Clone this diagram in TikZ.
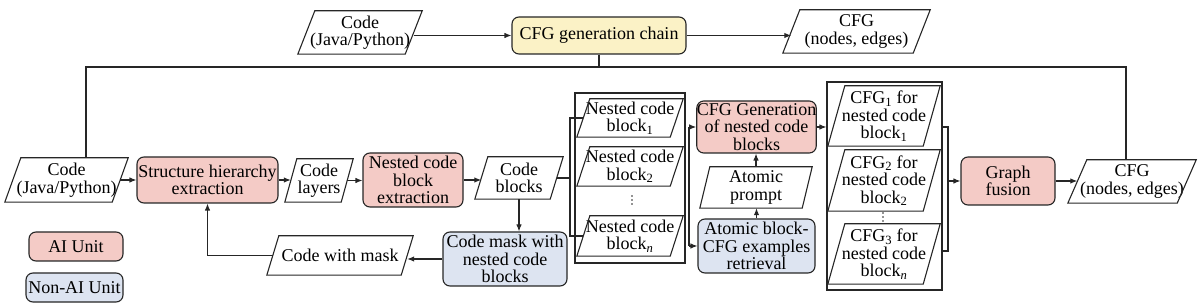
\documentclass[tikz,border=0pt]{standalone}
\usepackage{fontspec}
\setmainfont{Liberation Serif}
\usetikzlibrary{arrows.meta,calc}
\definecolor{aipink}{HTML}{F4CBC6}
\definecolor{nonblue}{HTML}{DDE4F1}
\definecolor{chainyel}{HTML}{FBF2C6}
\tikzset{
 txt/.style={inner sep=0pt, align=center, font=\fontsize{18}{17.5}\selectfont},
 ln/.style={line width=1.1pt, draw=black!85},
 arr/.style={ln, -{Latex[length=7pt,width=5.5pt]}},
 rbox/.style={txt, ln, draw, rounded corners=7pt},
 contbox/.style={ln, draw, inner sep=0pt},
 dotmark/.style={fill=black!85},
}
% parallelogram: name, L, R, T, B, slant, text
\newcommand\mypg[7]{%
  \node[txt, minimum width={#3-#2-#6}, minimum height={#5-#4}] (#1) at ({(#2+#3)/2},{(#4+#5)/2}) {#7};
  \draw[ln, line join=miter] ($(#1.south west)+(-#6/2,0)$) -- ($(#1.north west)+(#6/2,0)$) -- ($(#1.north east)+(#6/2,0)$) -- ($(#1.south east)+(-#6/2,0)$) -- cycle;
}
% rounded box: name, L, R, T, B, fill, text
\newcommand\myrb[7]{%
  \node[rbox, fill=#6, minimum width={#3-#2}, minimum height={#5-#4}] (#1) at ({(#2+#3)/2},{(#4+#5)/2}) {#7};
}
% vertical ellipsis drawn as three dots: x, y
\newcommand\myvdots[2]{%
  \foreach \dy in {-4,0,4} {\fill[dotmark] (#1,#2+\dy) circle (0.9);}
}
\begin{document}
\begin{tikzpicture}[x=1pt,y=-1pt]
\useasboundingbox (0,0) rectangle (1200,307);

% containers
\node[contbox, minimum width=110, minimum height=170] (cont1) at (630,178) {};
\node[contbox, minimum width=115, minimum height=208] (cont2) at (884.5,186) {};

% top row
\mypg{codeT}{298}{422}{11}{54}{17}{Code\\(Java/Python)}
\myrb{chain}{512}{686}{17}{54}{chainyel}{CFG generation chain}
\mypg{cfgT}{783}{930}{10}{53}{17}{CFG\\(nodes, edges)}

% main row
\mypg{codeL}{5}{128}{158}{202}{16}{Code\\(Java/Python)}
\myrb{struct}{137}{278}{157}{203}{aipink}{Structure hierarchy\\extraction}
\mypg{layers}{285}{353}{159}{202}{12}{Code\\layers}
\myrb{nest}{363}{463}{153}{207}{aipink}{Nested code\\block\\extraction}
\mypg{blocks}{475}{563}{157}{199}{13}{Code\\blocks}
\myrb{mask}{443}{567}{232}{286}{nonblue}{Code mask with\\nested code\\blocks}
\mypg{withmask}{267}{413}{236}{275}{12}{Code with mask}

\mypg{nb1}{577}{683}{99}{137}{13}{Nested code\\block\textsubscript{1}}
\mypg{nb2}{577}{683}{147}{186}{13}{Nested code\\block\textsubscript{2}}
\myvdots{632}{200}
\mypg{nbn}{577}{683}{216}{256}{13}{Nested code\\block\textsubscript{\textit{n}}}

\myrb{gen}{698}{815}{101}{153}{aipink}{CFG Generation\\of nested code\\blocks}
\mypg{prompt}{700}{812}{167}{208}{10}{Atomic\\prompt}
\myrb{retr}{698}{815}{219}{273}{nonblue}{Atomic block-\\CFG examples\\retrieval}

\mypg{c1}{828}{940}{86}{146}{17}{CFG\textsubscript{1} for\\nested code\\block\textsubscript{1}}
\mypg{c2}{828}{940}{150}{211}{17}{CFG\textsubscript{2} for\\nested code\\block\textsubscript{2}}
\myvdots{883}{217}
\mypg{c3}{828}{940}{224}{284}{17}{CFG\textsubscript{3} for\\nested code\\block\textsubscript{\textit{n}}}

\myrb{fusion}{961}{1055}{157}{205}{aipink}{Graph\\fusion}
\mypg{cfgR}{1068}{1196}{160}{203}{19}{CFG\\(nodes, edges)}

% legend
\myrb{ai}{29}{123}{232}{261}{aipink}{AI Unit}
\myrb{nonai}{26}{123}{273}{302}{nonblue}{Non-AI Unit}

% connectors top
\draw[arr] (chain.west -| codeT.east) -- (chain.west);
\draw[arr] (chain.east) -- (chain.east -| cfgT.west);
\coordinate (barL) at (86,67);
\coordinate (barR) at (1126,67);
\draw[ln] (chain.south) -- (chain.south |- barL);
\draw[ln] (barL |- codeL.north) -- (barL) -- (barR) -- (barR |- cfgR.north);

% connectors main
\draw[arr] (codeL.east) -- (codeL.east -| struct.west);
\draw[arr] (struct.east) -- (struct.east -| layers.west);
\draw[arr] (layers.east) -- (layers.east -| nest.west);
\draw[arr] (nest.east) -- (nest.east -| blocks.west);
\draw[arr] (blocks.south) -- (blocks.south |- mask.north);
\draw[arr] (mask.west) -- (mask.west -| withmask.east);
\draw[arr] (withmask.west) -| (struct.south);

\coordinate (bx1) at (570,0);
\draw[ln] (blocks.east) -- (blocks.east -| bx1);
\draw[ln] (nb1.west) -- (nb1.west -| bx1) -- (nbn.west -| bx1) -- (nbn.west);

\coordinate (bx2) at (689,0);
\draw[ln] (bx2 |- gen.west) -- (bx2 |- retr.west);
\draw[arr] (bx2 |- gen.west) -- (gen.west);
\draw[arr] (bx2 |- retr.west) -- (retr.west);
\draw[arr] (retr.north) -- (retr.north |- prompt.south);
\draw[arr] (prompt.north) -- (prompt.north |- gen.south);
\draw[arr] (gen.east) -- (gen.east -| cont2.west);

\coordinate (b2t) at (948,127);
\coordinate (b2b) at (948,251);
\draw[ln] (cont2.east |- b2t) -- (b2t) -- (b2b) -- (cont2.east |- b2b);
\draw[arr] (b2t |- fusion.west) -- (fusion.west);
\draw[arr] (fusion.east) -- (fusion.east -| cfgR.west);
\end{tikzpicture}
\end{document}
